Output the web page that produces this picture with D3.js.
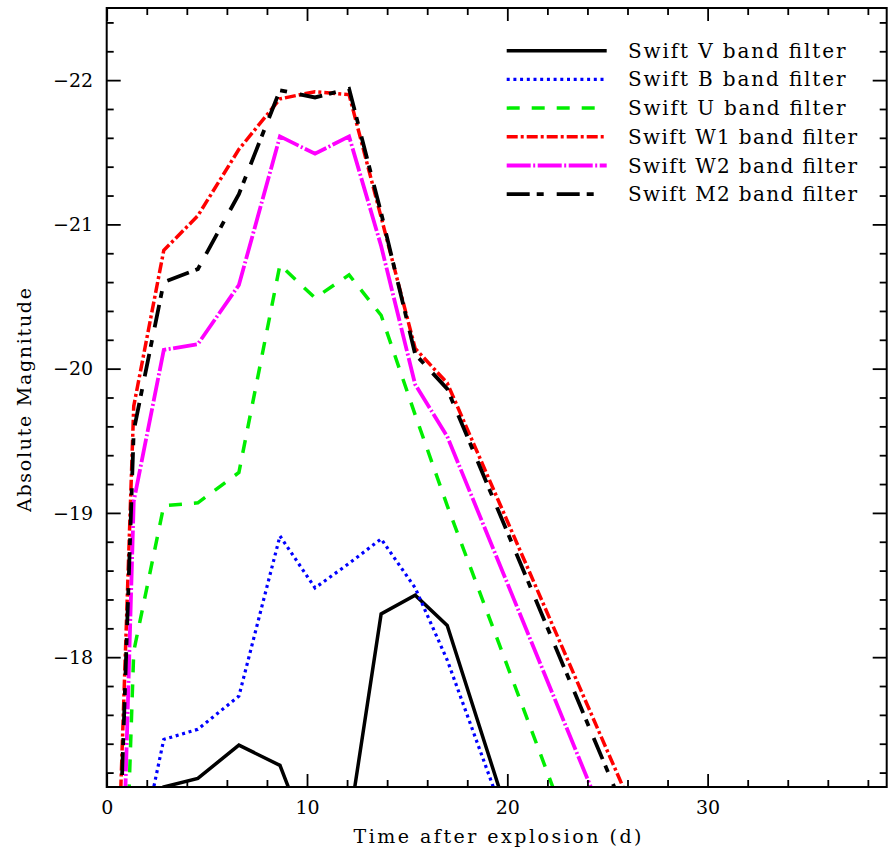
<!DOCTYPE html>
<html>
<head>
<meta charset="utf-8">
<script src="https://cdn.jsdelivr.net/npm/d3@7"></script>
<style>
  html, body { margin: 0; padding: 0; background: #fff; }
  svg { display: block; }
  text { font-family: "DejaVu Serif", "Liberation Serif", serif; fill: #000; }
</style>
</head>
<body>
<svg id="chart" width="888" height="857"></svg>
<script>
// ---- data ----
const times   = [0.6, 1.35, 2.85, 4.55, 6.6, 8.65, 10.4, 12.1, 13.7, 15.4, 17.0, 27.0];
const timesVB = [0.6, 1.35, 2.85, 4.55, 6.6, 8.65, 10.4, 12.1, 13.7, 15.4, 17.0, 21.0];
const magV  = [-15.0, -16.0, -17.10, -17.16, -17.39, -17.25, -16.62, -16.84, -18.30, -18.43, -18.22, -16.48];
const magB  = [-15.5, -16.44, -17.43, -17.50, -17.73, -18.84, -18.48, -18.65, -18.82, -18.48, -17.98, -16.45];
const magU  = [-14.95, -18.04, -19.05, -19.07, -19.28, -20.72, -20.49, -20.65, -20.37, -19.68, -19.05, -15.35];
const magW1 = [-16.66, -19.74, -20.82, -21.06, -21.52, -21.87, -21.92, -21.90, -21.05, -20.14, -19.90, -16.71];
const magW2 = [-15.49, -19.08, -20.13, -20.17, -20.58, -21.61, -21.49, -21.61, -20.85, -19.89, -19.53, -16.14];
const magM2 = [-16.49, -19.57, -20.60, -20.69, -21.21, -21.93, -21.88, -21.94, -21.08, -20.10, -19.86, -16.55];
const seriesNames = ["Swift V band filter", "Swift B band filter", "Swift U band filter",
                     "Swift W1 band filter", "Swift W2 band filter", "Swift M2 band filter"];
const xMajorTicks = [0, 10, 20, 30];
const yMajorTicks = [-22, -21, -20, -19, -18];
const xLabel = "Time after explosion (d)";
const yLabel = "Absolute Magnitude";

// ---- styles ----
const styles = [
  { color: "#000000", dash: null,          width: 3.5 },
  { color: "#0000ff", dash: "3,3.7",       width: 3.2 },
  { color: "#00ee00", dash: "13,12",       width: 3.5 },
  { color: "#ff0000", dash: "11,3,3,3",    width: 3.5 },
  { color: "#ff00ff", dash: "24,2.5,2,2.5",width: 3.8 },
  { color: "#000000", dash: "23,7,7,13",   width: 3.8 }
];
const seriesData = [
  [timesVB, magV], [timesVB, magB], [times, magU], [times, magW1], [times, magW2], [times, magM2]
];

const svg = d3.select("#chart");
const L = 106.7, R = 886.7, T = 8, B = 787;
const x = d3.scaleLinear().domain([0, 38.94]).range([L, R]);
const y = d3.scaleLinear().domain([-22.5, -17.1]).range([T, B]);

svg.append("defs").append("clipPath").attr("id", "clip")
  .append("rect").attr("x", L).attr("y", T).attr("width", R - L).attr("height", B - T);

// lines
const line = d3.line().x(d => x(d[0])).y(d => y(d[1]));
const g = svg.append("g").attr("clip-path", "url(#clip)");
seriesData.forEach((s, i) => {
  const pts = s[0].map((t, k) => [t, s[1][k]]);
  g.append("path").datum(pts)
    .attr("d", line)
    .attr("fill", "none")
    .attr("stroke", styles[i].color)
    .attr("stroke-width", styles[i].width)
    .attr("stroke-dasharray", styles[i].dash)
    .attr("stroke-linejoin", "miter");
});

// axes ticks
const xMinor = d3.range(0, 39, 2).filter(v => !xMajorTicks.includes(v));
const yMinor = d3.range(-22.4, -17.1, 0.2).map(v => +v.toFixed(1)).filter(v => !yMajorTicks.includes(v));
const fmt = d3.format("d");

function addAxis(axis, transform, labels) {
  const a = svg.append("g").attr("transform", transform).call(axis);
  a.select(".domain").remove();
  a.selectAll("line").attr("stroke", "#000").attr("stroke-width", 1.8);
  if (!labels) a.selectAll("text").remove();
  else a.selectAll("text").attr("font-size", 19).attr("font-family", "DejaVu Serif").attr("fill", "#000");
  return a;
}
// bottom
addAxis(d3.axisBottom(x).tickValues(xMajorTicks).tickFormat(fmt).tickSizeInner(-13).tickPadding(14), `translate(0,${B})`, true);
addAxis(d3.axisBottom(x).tickValues(xMinor).tickSizeInner(-7), `translate(0,${B})`, false);
// top
addAxis(d3.axisTop(x).tickValues(xMajorTicks).tickSizeInner(-13), `translate(0,${T})`, false);
addAxis(d3.axisTop(x).tickValues(xMinor).tickSizeInner(-7), `translate(0,${T})`, false);
// left
addAxis(d3.axisLeft(y).tickValues(yMajorTicks).tickFormat(fmt).tickSizeInner(-14).tickPadding(13.5), `translate(${L},0)`, true);
addAxis(d3.axisLeft(y).tickValues(yMinor).tickSizeInner(-7), `translate(${L},0)`, false);
// right
addAxis(d3.axisRight(y).tickValues(yMajorTicks).tickSizeInner(-14), `translate(${R},0)`, false);
addAxis(d3.axisRight(y).tickValues(yMinor).tickSizeInner(-7), `translate(${R},0)`, false);

// frame
svg.append("rect").attr("x", L).attr("y", T).attr("width", R - L).attr("height", B - T)
  .attr("fill", "none").attr("stroke", "#000").attr("stroke-width", 2);

// axis titles
svg.append("text").attr("x", (353 + 642) / 2).attr("y", 843)
  .attr("text-anchor", "middle").attr("font-size", 19)
  .attr("textLength", 288).attr("lengthAdjust", "spacing")
  .text(xLabel);
svg.append("text").attr("transform", "translate(31,400) rotate(-90)")
  .attr("text-anchor", "middle").attr("font-size", 19)
  .attr("textLength", 224).attr("lengthAdjust", "spacing")
  .text(yLabel);

// legend
const legY0 = 50.7, legDY = 28.7;
const leg = svg.append("g");
seriesNames.forEach((name, i) => {
  const yy = legY0 + i * legDY;
  leg.append("line").attr("x1", 506.7).attr("x2", 606.7).attr("y1", yy).attr("y2", yy)
    .attr("stroke", styles[i].color).attr("stroke-width", styles[i].width)
    .attr("stroke-dasharray", styles[i].dash);
  const tl = name.length * 11.55 - 2;
  leg.append("text").attr("x", 628).attr("y", yy + 7)
    .attr("font-size", 20)
    .attr("textLength", tl).attr("lengthAdjust", "spacing")
    .text(name);
});
</script>
</body>
</html>
